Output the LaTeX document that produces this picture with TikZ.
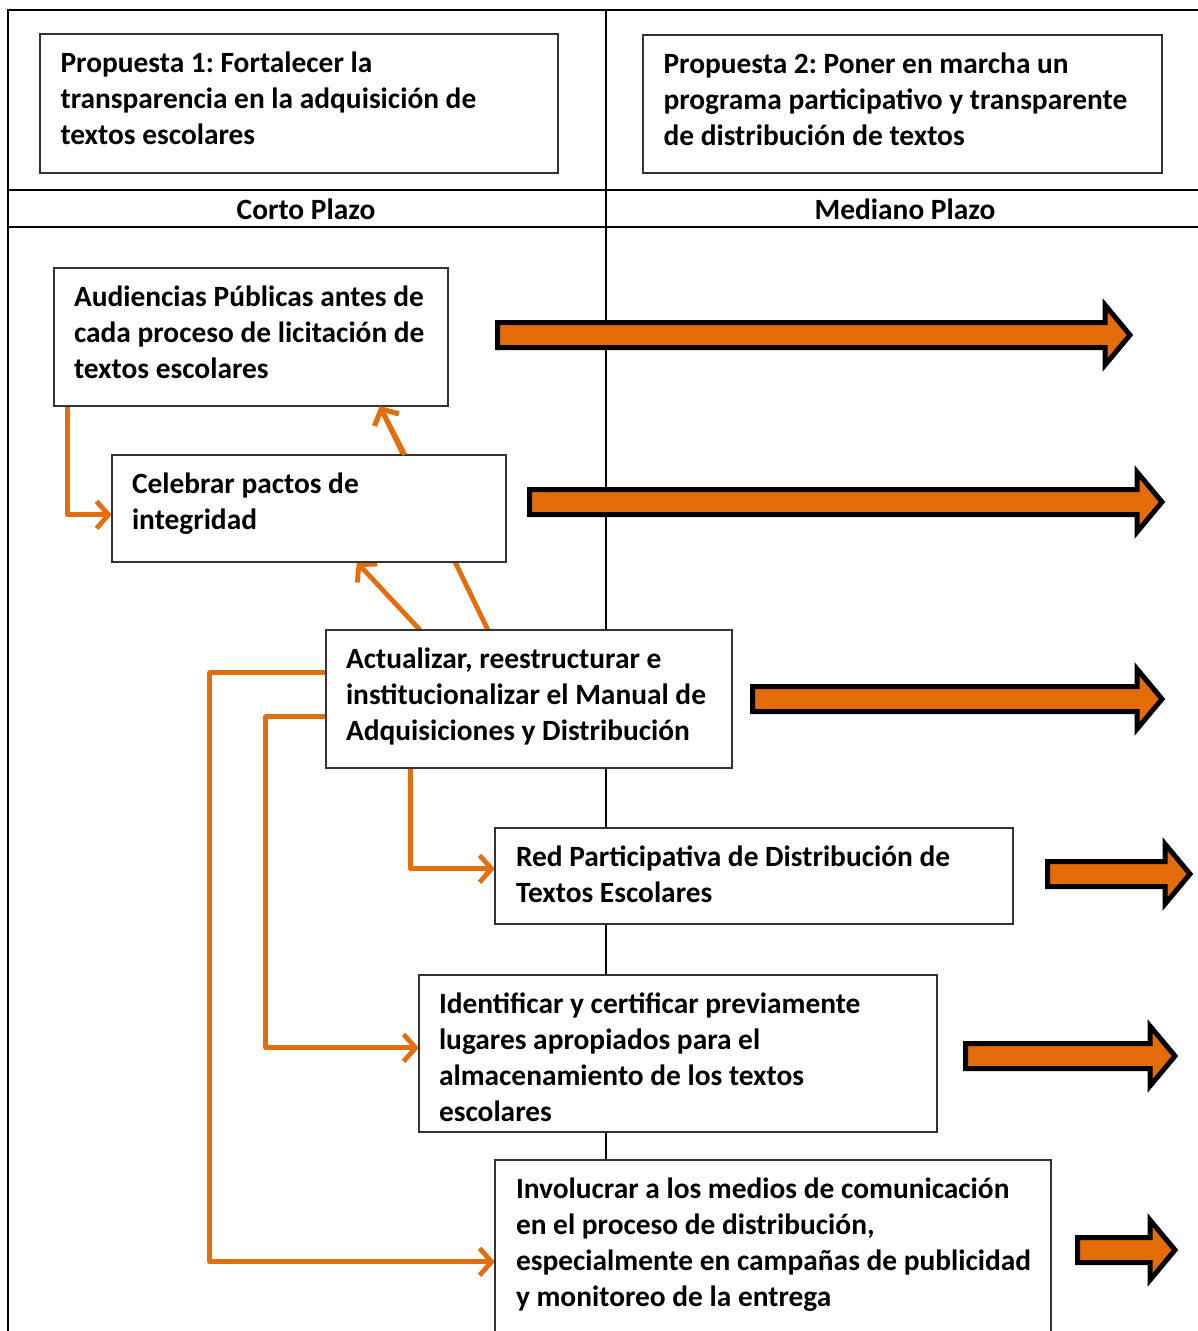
\documentclass[tikz,border=0pt]{standalone}
\usepackage{fontspec}
\setmainfont{Carlito}
\usetikzlibrary{arrows.meta,calc}
\definecolor{barfill}{RGB}{227,108,9}
\definecolor{connor}{RGB}{228,110,14}
\tikzset{
  tline/.style={line width=2pt, black},
  box/.style={draw=black!80, line width=1.3pt, fill=white, inner sep=0pt},
  txt/.style={anchor=north west, inner sep=0pt, align=left,
     font=\frenchspacing\bfseries\fontsize{29.4}{36}\selectfont},
  hdr/.style={font=\bfseries\fontsize{29.4}{36}\selectfont, inner sep=0pt},
  conn/.style={draw=connor, line width=4.8pt, line join=round,
     -{Straight Barb[length=12pt,width=27pt,line width=4.8pt]}},
  barrow/.style={fill=barfill, draw=black, line width=5pt, line join=miter},
}
\newcommand\blockarr[4]{\filldraw[barrow] (#1,#2-12.5) -- (#3,#2-12.5) -- (#3,#2-30) -- (#4,#2) -- (#3,#2+30) -- (#3,#2+12.5) -- (#1,#2+12.5) -- cycle;}
\begin{document}
\begin{tikzpicture}[x=1pt,y=-1pt]
\useasboundingbox (0,0) rectangle (1198,1331);
\fill[white] (0,0) rectangle (1198,1331);
% table
\draw[tline] (8,1331) -- (8,10) -- (1198,10);
\draw[tline] (606,10) -- (606,1331);
\draw[tline] (8,190) -- (1198,190);
\draw[tline] (8,227) -- (1198,227);
\node[hdr] (corto) at (306,209) {Corto Plazo};
\node[hdr] (mediano) at (905,209) {Mediano Plazo};
% proposal boxes
\node[box, minimum width=518pt, minimum height=139pt] (p1) at (299,103.5) {};
\node[txt] (p1t) at ($(p1.north west)+(21,13.5)$)
  {\strut Propuesta 1: Fortalecer la\\transparencia en la adquisición de\\textos escolares};
\node[box, minimum width=519pt, minimum height=138pt] (p2) at (902.5,104) {};
\node[txt] (p2t) at ($(p2.north west)+(21,13.5)$)
  {\strut Propuesta 2: Poner en marcha un\\programa participativo y transparente\\de distribución de textos};
% invisible placeholders for connector ends
\path
  node[minimum width=394pt, minimum height=138pt, inner sep=0pt] (aud) at (251,337) {}
  node[minimum width=394pt, minimum height=107pt, inner sep=0pt] (cel) at (309,508.5) {}
  node[minimum width=406pt, minimum height=138pt, inner sep=0pt] (act) at (529,699) {}
  node[minimum width=518pt, minimum height=96pt, inner sep=0pt] (red) at (754,876) {}
  node[minimum width=518pt, minimum height=157pt, inner sep=0pt] (ide) at (678,1053.5) {}
  node[minimum width=556pt, minimum height=180pt, inner sep=0pt] (inv) at (773,1250) {};
% connectors
\draw[conn] ($(act.north west)+(162,0)$) -- ($(aud.south west)+(326,0)$);
\draw[conn] ($(aud.south west)+(14,0)$) |- ($(cel.north west)+(0,60)$);
\draw[conn] ($(act.north west)+(94,0)$) -- ($(cel.south west)+(245,0)$);
\draw[conn] ($(act.north west)+(0,43)$) -- ++(-116,0) |- ($(inv.north west)+(0,102)$);
\draw[conn] ($(act.north west)+(0,87)$) -- ++(-60,0) |- ($(ide.north west)+(0,73)$);
\draw[conn] ($(act.south west)+(85,0)$) |- ($(red.north west)+(0,41)$);
% boxes
\node[box, minimum width=394pt, minimum height=138pt] (audb) at (aud) {};
\node[txt] (audt) at ($(aud.north west)+(20,13.5)$)
  {\strut Audiencias Públicas antes de\\cada proceso de licitación de\\textos escolares};
\node[box, minimum width=394pt, minimum height=107pt] (celb) at (cel) {};
\node[txt] (celt) at ($(cel.north west)+(20,13.5)$)
  {\strut Celebrar pactos de\\integridad};
\draw[conn] ($(cel.north west)+(293,0)$) -- ($(aud.south west)+(326,0)$);
\node[box, minimum width=406pt, minimum height=138pt] (actb) at (act) {};
\node[txt] (actt) at ($(act.north west)+(20,13.5)$)
  {\strut Actualizar, reestructurar e\\institucionalizar el Manual de\\Adquisiciones y Distribución};
\node[box, minimum width=518pt, minimum height=96pt] (redb) at (red) {};
\node[txt] (redt) at ($(red.north west)+(21,13.5)$)
  {\strut Red Participativa de Distribución de\\Textos Escolares};
\node[box, minimum width=518pt, minimum height=157pt] (ideb) at (ide) {};
\node[txt] (idet) at ($(ide.north west)+(20,13.5)$)
  {\strut Identificar y certificar previamente\\lugares apropiados para el\\almacenamiento de los textos\\escolares};
\node[box, minimum width=556pt, minimum height=180pt] (invb) at (inv) {};
\node[txt] (invt) at ($(inv.north west)+(21,13.5)$)
  {\strut Involucrar a los medios de comunicación\\en el proceso de distribución,\\especialmente en campañas de publicidad\\y monitoreo de la entrega};
% block arrows
\blockarr{497.5}{335}{1105}{1130}
\blockarr{529.5}{502}{1137}{1162}
\blockarr{752.5}{699}{1137}{1162}
\blockarr{1047.5}{874}{1165}{1190}
\blockarr{965.5}{1056}{1150}{1175}
\blockarr{1077.5}{1250}{1150}{1175}
\end{tikzpicture}
\end{document}
